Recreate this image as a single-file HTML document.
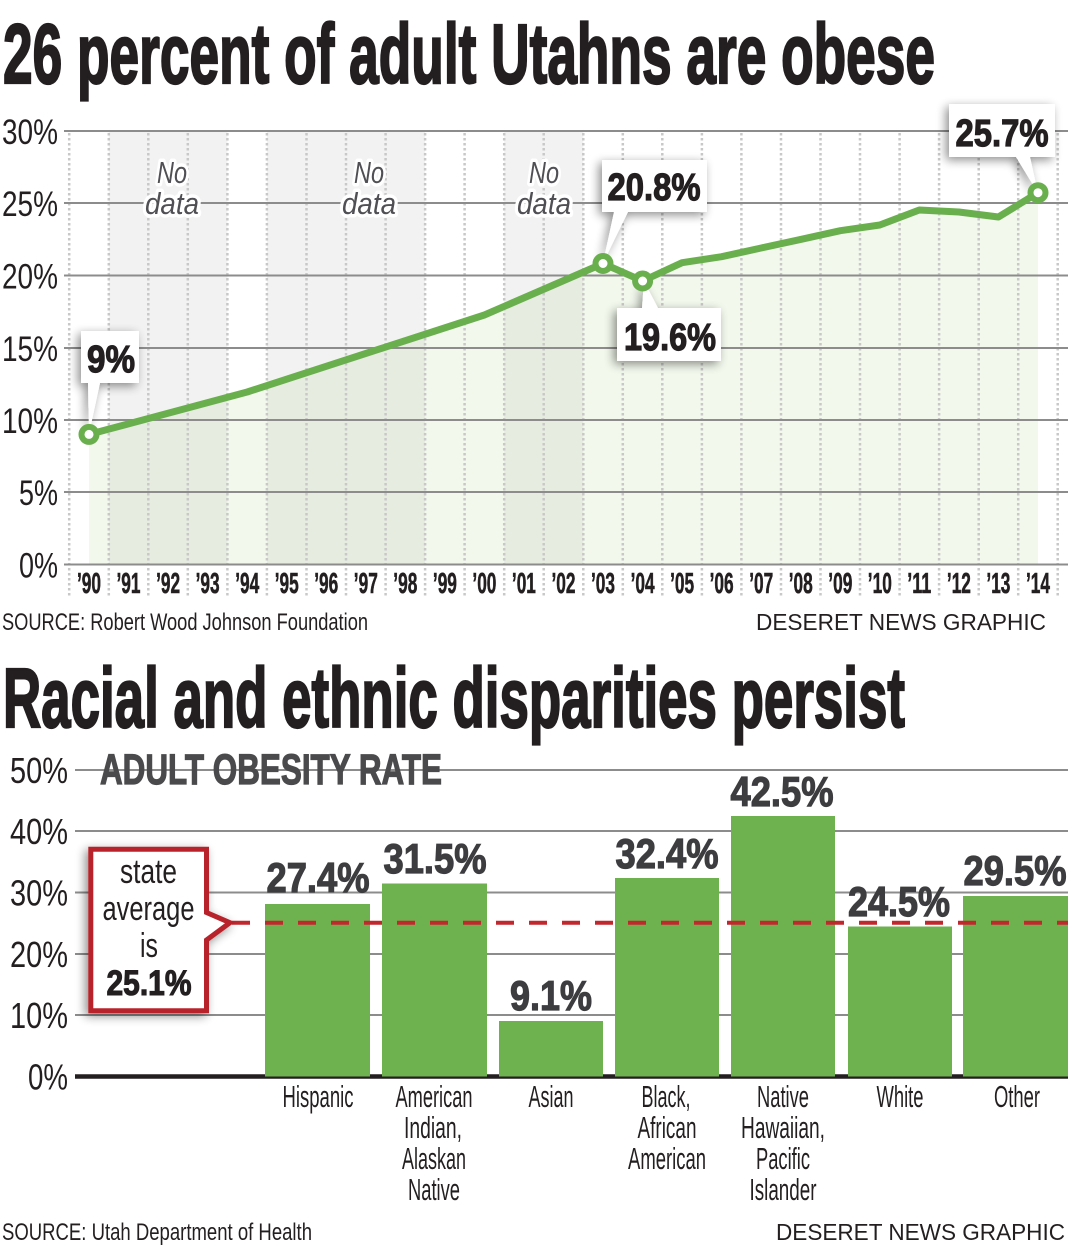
<!DOCTYPE html>
<html><head><meta charset="utf-8"><style>
html,body{margin:0;padding:0;background:#fff;}
svg{display:block;}
text{font-family:"Liberation Sans Narrow","Liberation Sans",sans-serif;}
</style></head><body>
<svg width="1083" height="1246" viewBox="0 0 1083 1246" xmlns="http://www.w3.org/2000/svg">
<defs>
<filter id="sh" x="-40%" y="-40%" width="180%" height="180%">
<feGaussianBlur in="SourceAlpha" stdDeviation="5"/>
<feOffset dx="-3" dy="3" result="b"/>
<feComponentTransfer><feFuncA type="linear" slope="0.45"/></feComponentTransfer>
<feMerge><feMergeNode/><feMergeNode in="SourceGraphic"/></feMerge>
</filter>
</defs>
<rect width="1083" height="1246" fill="#fff"/>

<!-- TITLE 1 -->
<text x="3" y="83" font-size="84" font-weight="bold" fill="#231f20" stroke="#231f20" stroke-width="2.2" textLength="932" lengthAdjust="spacingAndGlyphs">26 percent of adult Utahns are obese</text>

<!-- gray no-data bands -->
<g fill="#f2f2f2">
<rect x="108.8" y="131" width="118.6" height="433.5"/>
<rect x="266.9" y="131" width="158.2" height="433.5"/>
<rect x="504.2" y="131" width="79.1" height="433.5"/>
</g>

<!-- area fill -->
<polygon fill="rgb(150,200,100)" fill-opacity="0.12" points="89,434.4 247.2,392 484.4,315 603,263.5 642.6,281 682.1,262.7 721.6,256.7 761.2,248 800.7,239.4 840.3,230.7 879.8,225 919.3,210 958.9,212 998.4,217 1038,192.7 1038,564.5 89,564.5"/>

<!-- dotted verticals -->
<g stroke="#c8c8c8" stroke-width="2.5" stroke-dasharray="2.5 2.5">
<line x1="69.2" y1="133" x2="69.2" y2="598"/><line x1="108.8" y1="133" x2="108.8" y2="598"/><line x1="148.3" y1="133" x2="148.3" y2="598"/><line x1="187.8" y1="133" x2="187.8" y2="598"/><line x1="227.4" y1="133" x2="227.4" y2="598"/><line x1="266.9" y1="133" x2="266.9" y2="598"/><line x1="306.5" y1="133" x2="306.5" y2="598"/><line x1="346" y1="133" x2="346" y2="598"/><line x1="385.6" y1="133" x2="385.6" y2="598"/><line x1="425.1" y1="133" x2="425.1" y2="598"/><line x1="464.6" y1="133" x2="464.6" y2="598"/><line x1="504.2" y1="133" x2="504.2" y2="598"/><line x1="543.7" y1="133" x2="543.7" y2="598"/><line x1="583.3" y1="133" x2="583.3" y2="598"/><line x1="622.8" y1="133" x2="622.8" y2="598"/><line x1="662.3" y1="133" x2="662.3" y2="598"/><line x1="701.9" y1="133" x2="701.9" y2="598"/><line x1="741.4" y1="133" x2="741.4" y2="598"/><line x1="781" y1="133" x2="781" y2="598"/><line x1="820.5" y1="133" x2="820.5" y2="598"/><line x1="860" y1="133" x2="860" y2="598"/><line x1="899.6" y1="133" x2="899.6" y2="598"/><line x1="939.1" y1="133" x2="939.1" y2="598"/><line x1="978.7" y1="133" x2="978.7" y2="598"/><line x1="1018.2" y1="133" x2="1018.2" y2="598"/><line x1="1057.7" y1="133" x2="1057.7" y2="598"/>
</g>

<!-- gridlines top -->
<g stroke="#8c8c8c" stroke-width="2">
<line x1="64" y1="131" x2="1068" y2="131"/>
<line x1="64" y1="203" x2="1068" y2="203"/>
<line x1="64" y1="275.5" x2="1068" y2="275.5"/>
<line x1="64" y1="348" x2="1068" y2="348"/>
<line x1="64" y1="420" x2="1068" y2="420"/>
<line x1="64" y1="492" x2="1068" y2="492"/>
<line x1="64" y1="564.5" x2="1068" y2="564.5"/>
</g>

<!-- y labels top -->
<g font-size="35" fill="#231f20" text-anchor="end">
<text x="58" y="144" textLength="56" lengthAdjust="spacingAndGlyphs">30%</text>
<text x="58" y="216" textLength="56" lengthAdjust="spacingAndGlyphs">25%</text>
<text x="58" y="288.5" textLength="56" lengthAdjust="spacingAndGlyphs">20%</text>
<text x="58" y="361" textLength="56" lengthAdjust="spacingAndGlyphs">15%</text>
<text x="58" y="433" textLength="56" lengthAdjust="spacingAndGlyphs">10%</text>
<text x="58" y="505" textLength="39" lengthAdjust="spacingAndGlyphs">5%</text>
<text x="58" y="577.5" textLength="39" lengthAdjust="spacingAndGlyphs">0%</text>
</g>

<!-- No data labels -->
<g font-size="31" font-style="italic" fill="#505054" text-anchor="middle" stroke="#fff" stroke-width="7" stroke-linejoin="round" paint-order="stroke">
<text x="172" y="183" textLength="30" lengthAdjust="spacingAndGlyphs">No</text>
<text x="172" y="214" textLength="54" lengthAdjust="spacingAndGlyphs">data</text>
<text x="369" y="183" textLength="30" lengthAdjust="spacingAndGlyphs">No</text>
<text x="369" y="214" textLength="54" lengthAdjust="spacingAndGlyphs">data</text>
<text x="544" y="183" textLength="30" lengthAdjust="spacingAndGlyphs">No</text>
<text x="544" y="214" textLength="54" lengthAdjust="spacingAndGlyphs">data</text>
</g>

<!-- year labels -->
<g font-size="29" font-weight="bold" fill="#231f20" stroke="#231f20" stroke-width="0.6" text-anchor="middle">
<text x="89" y="593" textLength="24" lengthAdjust="spacingAndGlyphs">’90</text>
<text x="128.5" y="593" textLength="24" lengthAdjust="spacingAndGlyphs">’91</text>
<text x="168.1" y="593" textLength="24" lengthAdjust="spacingAndGlyphs">’92</text>
<text x="207.6" y="593" textLength="24" lengthAdjust="spacingAndGlyphs">’93</text>
<text x="247.2" y="593" textLength="24" lengthAdjust="spacingAndGlyphs">’94</text>
<text x="286.7" y="593" textLength="24" lengthAdjust="spacingAndGlyphs">’95</text>
<text x="326.2" y="593" textLength="24" lengthAdjust="spacingAndGlyphs">’96</text>
<text x="365.8" y="593" textLength="24" lengthAdjust="spacingAndGlyphs">’97</text>
<text x="405.3" y="593" textLength="24" lengthAdjust="spacingAndGlyphs">’98</text>
<text x="444.9" y="593" textLength="24" lengthAdjust="spacingAndGlyphs">’99</text>
<text x="484.4" y="593" textLength="24" lengthAdjust="spacingAndGlyphs">’00</text>
<text x="523.9" y="593" textLength="24" lengthAdjust="spacingAndGlyphs">’01</text>
<text x="563.5" y="593" textLength="24" lengthAdjust="spacingAndGlyphs">’02</text>
<text x="603" y="593" textLength="24" lengthAdjust="spacingAndGlyphs">’03</text>
<text x="642.6" y="593" textLength="24" lengthAdjust="spacingAndGlyphs">’04</text>
<text x="682.1" y="593" textLength="24" lengthAdjust="spacingAndGlyphs">’05</text>
<text x="721.6" y="593" textLength="24" lengthAdjust="spacingAndGlyphs">’06</text>
<text x="761.2" y="593" textLength="24" lengthAdjust="spacingAndGlyphs">’07</text>
<text x="800.7" y="593" textLength="24" lengthAdjust="spacingAndGlyphs">’08</text>
<text x="840.3" y="593" textLength="24" lengthAdjust="spacingAndGlyphs">’09</text>
<text x="879.8" y="593" textLength="24" lengthAdjust="spacingAndGlyphs">’10</text>
<text x="919.3" y="593" textLength="24" lengthAdjust="spacingAndGlyphs">’11</text>
<text x="958.9" y="593" textLength="24" lengthAdjust="spacingAndGlyphs">’12</text>
<text x="998.4" y="593" textLength="24" lengthAdjust="spacingAndGlyphs">’13</text>
<text x="1038" y="593" textLength="24" lengthAdjust="spacingAndGlyphs">’14</text>
</g>

<!-- data line -->
<polyline fill="none" stroke="#6aaf4e" stroke-width="7" stroke-linejoin="round" stroke-linecap="round" points="89,434.4 247.2,392 484.4,315 603,263.5 642.6,281 682.1,262.7 721.6,256.7 761.2,248 800.7,239.4 840.3,230.7 879.8,225 919.3,210 958.9,212 998.4,217 1038,192.7"/>

<!-- callouts -->
<g fill="#fff" filter="url(#sh)">
<path d="M81,331 H139 V383 H100 L89,434 L88,383 H81 Z"/>
<path d="M602,160 H707 V212 H628 L603,263 L614,212 H602 Z"/>
<path d="M617,308 H642 L644,281 L658,308 H721 V361 H617 Z"/>
<path d="M949,104 H1055 V157 H1030 L1038,193 L1016,157 H949 Z"/>
</g>
<g font-size="38" font-weight="bold" fill="#231f20" stroke="#231f20" stroke-width="1.2" text-anchor="middle">
<text x="111" y="372" textLength="48" lengthAdjust="spacingAndGlyphs">9%</text>
<text x="654" y="200" textLength="93" lengthAdjust="spacingAndGlyphs">20.8%</text>
<text x="670" y="350" textLength="92" lengthAdjust="spacingAndGlyphs">19.6%</text>
<text x="1002" y="146" textLength="93" lengthAdjust="spacingAndGlyphs">25.7%</text>
</g>
<g fill="#fff" stroke="#6aaf4e" stroke-width="6">
<circle cx="89" cy="434.4" r="7.5"/>
<circle cx="603" cy="263.5" r="7.5"/>
<circle cx="642.6" cy="281" r="7.5"/>
<circle cx="1038" cy="192.7" r="7.5"/>
</g>

<!-- source 1 -->
<text x="2" y="630" font-size="24" fill="#231f20" textLength="366" lengthAdjust="spacingAndGlyphs">SOURCE: Robert Wood Johnson Foundation</text>
<text x="756" y="630" font-size="23" fill="#231f20" font-family="Liberation Sans, sans-serif" textLength="290" lengthAdjust="spacingAndGlyphs">DESERET NEWS GRAPHIC</text>

<!-- TITLE 2 -->
<text x="3" y="727" font-size="84" font-weight="bold" fill="#231f20" stroke="#231f20" stroke-width="2.2" textLength="902" lengthAdjust="spacingAndGlyphs">Racial and ethnic disparities persist</text>

<!-- bottom gridlines -->
<g stroke="#8c8c8c" stroke-width="2">
<line x1="75" y1="770" x2="1068" y2="770"/>
<line x1="75" y1="831" x2="1068" y2="831"/>
<line x1="75" y1="892.5" x2="1068" y2="892.5"/>
<line x1="75" y1="954" x2="1068" y2="954"/>
<line x1="75" y1="1015" x2="1068" y2="1015"/>
</g>
<line x1="75" y1="1076.5" x2="1068" y2="1076.5" stroke="#231f20" stroke-width="4.5"/>

<g font-size="36" fill="#231f20" text-anchor="end">
<text x="68" y="783" textLength="58" lengthAdjust="spacingAndGlyphs">50%</text>
<text x="68" y="844" textLength="58" lengthAdjust="spacingAndGlyphs">40%</text>
<text x="68" y="905.5" textLength="58" lengthAdjust="spacingAndGlyphs">30%</text>
<text x="68" y="967" textLength="58" lengthAdjust="spacingAndGlyphs">20%</text>
<text x="68" y="1028" textLength="58" lengthAdjust="spacingAndGlyphs">10%</text>
<text x="68" y="1089.5" textLength="40" lengthAdjust="spacingAndGlyphs">0%</text>
</g>

<text x="100" y="784" font-size="43" font-weight="bold" fill="#4a4a4d" stroke="#4a4a4d" stroke-width="1.2" textLength="342" lengthAdjust="spacingAndGlyphs">ADULT OBESITY RATE</text>

<!-- bars -->
<g fill="#6eb250">
<rect x="265" y="904" width="105" height="172.5"/>
<rect x="382" y="883.5" width="105" height="193"/>
<rect x="499" y="1021" width="104" height="55.5"/>
<rect x="615" y="878" width="104" height="198.5"/>
<rect x="731" y="816" width="104" height="260.5"/>
<rect x="848" y="926.5" width="104" height="150"/>
<rect x="963" y="896" width="105" height="180.5"/>
</g>

<g font-size="42" font-weight="bold" fill="#3d3d40" stroke="#3d3d40" stroke-width="1.2" text-anchor="middle">
<text x="318" y="892" textLength="103" lengthAdjust="spacingAndGlyphs">27.4%</text>
<text x="435" y="873" textLength="103" lengthAdjust="spacingAndGlyphs">31.5%</text>
<text x="551" y="1010" textLength="82" lengthAdjust="spacingAndGlyphs">9.1%</text>
<text x="667" y="868" textLength="103" lengthAdjust="spacingAndGlyphs">32.4%</text>
<text x="782" y="806" textLength="103" lengthAdjust="spacingAndGlyphs">42.5%</text>
<text x="899" y="916" textLength="102" lengthAdjust="spacingAndGlyphs">24.5%</text>
<text x="1015" y="885" textLength="103" lengthAdjust="spacingAndGlyphs">29.5%</text>
</g>

<!-- state average line -->
<line x1="232" y1="922.7" x2="1068" y2="922.7" stroke="#c1272d" stroke-width="4" stroke-dasharray="18 15"/>

<!-- state average box -->
<path d="M90.8,849.2 H206.5 V912.5 L230,922.7 L206.5,940 V1010.8 H90.8 Z" fill="#fff" stroke="#b8242b" stroke-width="5" filter="url(#sh)"/>
<g fill="#231f20" text-anchor="middle">
<text x="148.5" y="883" font-size="34" textLength="57" lengthAdjust="spacingAndGlyphs">state</text>
<text x="148.5" y="920" font-size="34" textLength="92" lengthAdjust="spacingAndGlyphs">average</text>
<text x="149" y="957" font-size="34" textLength="18" lengthAdjust="spacingAndGlyphs">is</text>
<text x="149" y="995" font-size="35" font-weight="bold" stroke="#231f20" stroke-width="1.1" textLength="85" lengthAdjust="spacingAndGlyphs">25.1%</text>
</g>

<!-- categories -->
<g font-size="31" fill="#231f20" text-anchor="middle">
<text x="318" y="1107" textLength="71" lengthAdjust="spacingAndGlyphs">Hispanic</text>
<text x="434" y="1107" textLength="77" lengthAdjust="spacingAndGlyphs">American</text>
<text x="433" y="1138" textLength="58" lengthAdjust="spacingAndGlyphs">Indian,</text>
<text x="434" y="1169" textLength="64" lengthAdjust="spacingAndGlyphs">Alaskan</text>
<text x="434" y="1200" textLength="52" lengthAdjust="spacingAndGlyphs">Native</text>
<text x="551" y="1107" textLength="45" lengthAdjust="spacingAndGlyphs">Asian</text>
<text x="666" y="1107" textLength="49" lengthAdjust="spacingAndGlyphs">Black,</text>
<text x="667" y="1138" textLength="59" lengthAdjust="spacingAndGlyphs">African</text>
<text x="667" y="1169" textLength="78" lengthAdjust="spacingAndGlyphs">American</text>
<text x="783" y="1107" textLength="52" lengthAdjust="spacingAndGlyphs">Native</text>
<text x="783" y="1138" textLength="84" lengthAdjust="spacingAndGlyphs">Hawaiian,</text>
<text x="783" y="1169" textLength="54" lengthAdjust="spacingAndGlyphs">Pacific</text>
<text x="783" y="1200" textLength="67" lengthAdjust="spacingAndGlyphs">Islander</text>
<text x="900" y="1107" textLength="47" lengthAdjust="spacingAndGlyphs">White</text>
<text x="1017" y="1107" textLength="46" lengthAdjust="spacingAndGlyphs">Other</text>
</g>

<!-- source 2 -->
<text x="2" y="1240" font-size="24" fill="#231f20" textLength="310" lengthAdjust="spacingAndGlyphs">SOURCE: Utah Department of Health</text>
<text x="776" y="1240" font-size="23" fill="#231f20" font-family="Liberation Sans, sans-serif" textLength="289" lengthAdjust="spacingAndGlyphs">DESERET NEWS GRAPHIC</text>
</svg>
</body></html>
